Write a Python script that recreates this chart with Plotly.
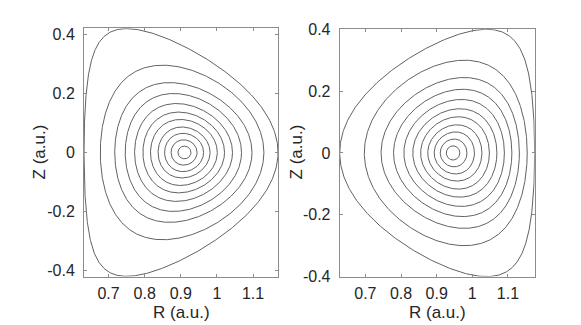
import numpy as np
import plotly.graph_objects as go

# ---- data (one entry per flux surface, outer -> inner) ----
# Left panel (positive triangularity)
L_Rin  = [0.632, 0.677, 0.717, 0.746, 0.772, 0.795, 0.816, 0.837, 0.855, 0.873, 0.892]
L_Rout = [1.169, 1.130, 1.097, 1.068, 1.043, 1.021, 1.001, 0.981, 0.963, 0.945, 0.928]
L_Ztop = [0.420, 0.296, 0.237, 0.200, 0.166, 0.137, 0.112, 0.0865, 0.065, 0.043, 0.0216]
L_Rtop = [0.750, 0.850, 0.869, 0.880, 0.888, 0.894, 0.899, 0.903, 0.906, 0.908, 0.910]

# Right panel (negative triangularity)
R_Rin  = [0.628, 0.697, 0.744, 0.779, 0.808, 0.833, 0.855, 0.875, 0.893, 0.910, 0.927]
R_Rout = [1.175, 1.154, 1.132, 1.111, 1.090, 1.069, 1.048, 1.027, 1.006, 0.985, 0.965]
R_Ztop = [0.400, 0.300, 0.244, 0.206, 0.173, 0.143, 0.117, 0.091, 0.068, 0.045, 0.023]
R_Rtop = [1.040, 0.978, 0.977, 0.973, 0.969, 0.965, 0.961, 0.957, 0.953, 0.949, 0.946]

x_tickvals = [0.7, 0.8, 0.9, 1.0, 1.1]
x_ticktext = ["0.7", "0.8", "0.9", "1", "1.1"]
y_tickvals = [-0.4, -0.2, 0.0, 0.2, 0.4]
y_ticktext = ["-0.4", "-0.2", "0", "0.2", "0.4"]
x_title = "R (a.u.)"
y_title = "Z (a.u.)"

L_xrange = [0.632, 1.169]
L_yrange = [-0.421, 0.421]
R_xrange = [0.628, 1.175]
R_yrange = [-0.400, 0.400]


def surface(rin, rout, ztop, rtop, n=600):
    th = np.linspace(0, 2 * np.pi, n)
    rc = 0.5 * (rin + rout)
    a = 0.5 * (rout - rin)
    kap = ztop / a
    dlt = np.clip((rc - rtop) / a, -0.99, 0.99)
    R = rc + a * np.cos(th + np.arcsin(dlt) * np.sin(th))
    Z = kap * a * np.sin(th)
    return R, Z


fig = go.Figure()
line = dict(color="#3a3a3a", width=0.8)
for Rin, Rout, Zt, Rt, xa, ya in [
    (L_Rin, L_Rout, L_Ztop, L_Rtop, "x", "y"),
    (R_Rin, R_Rout, R_Ztop, R_Rtop, "x2", "y2"),
]:
    for i in range(len(Rin)):
        R, Z = surface(Rin[i], Rout[i], Zt[i], Rt[i])
        fig.add_trace(go.Scatter(x=R, y=Z, mode="lines", line=line,
                                 xaxis=xa, yaxis=ya, showlegend=False,
                                 hoverinfo="skip"))

tickfont = dict(family="Liberation Sans, Arial, sans-serif", size=16, color="#262626")
titlefont = dict(family="Liberation Sans, Arial, sans-serif", size=17, color="#262626")
axcommon = dict(showline=True, linecolor="#8c8c8c", linewidth=1, mirror="ticks",
                ticks="inside", ticklen=3, tickcolor="#8c8c8c", showgrid=False,
                zeroline=False, tickfont=tickfont)

W, H = 581, 325
L_dom = [76, 270]
R_dom = [331.7, 526.7]

fig.update_layout(
    width=W, height=H,
    margin=dict(l=0, r=0, t=0, b=0),
    paper_bgcolor="white", plot_bgcolor="white",
    xaxis=dict(domain=[L_dom[0] / W, L_dom[1] / W], range=L_xrange, anchor="y",
               tickvals=x_tickvals, ticktext=x_ticktext, ticklabelstandoff=2, **axcommon),
    yaxis=dict(domain=[1 - 275 / H, 1 - 13 / H], range=L_yrange, anchor="x",
               tickvals=y_tickvals, ticktext=y_ticktext, ticklabelstandoff=5, **axcommon),
    xaxis2=dict(domain=[R_dom[0] / W, R_dom[1] / W], range=R_xrange, anchor="y2",
                tickvals=x_tickvals, ticktext=x_ticktext, ticklabelstandoff=2, **axcommon),
    yaxis2=dict(domain=[1 - 275 / H, 1 - 14 / H], range=R_yrange, anchor="x2",
                tickvals=y_tickvals, ticktext=y_ticktext, ticklabelstandoff=5, **axcommon),
)

anns = [
    dict(text=x_title, x=(L_dom[0] + L_dom[1]) / 2 / W, y=1 - 313 / H),
    dict(text=x_title, x=(R_dom[0] + R_dom[1]) / 2 / W, y=1 - 313 / H),
    dict(text=y_title, x=31 / W, y=1 - 144 / H, textangle=-90),
    dict(text=y_title, x=288 / W, y=1 - 144 / H, textangle=-90),
]
for a in anns:
    fig.add_annotation(xref="paper", yref="paper", showarrow=False,
                       xanchor="center", yanchor="middle", font=titlefont, **a)

fig.write_html("out.html")
